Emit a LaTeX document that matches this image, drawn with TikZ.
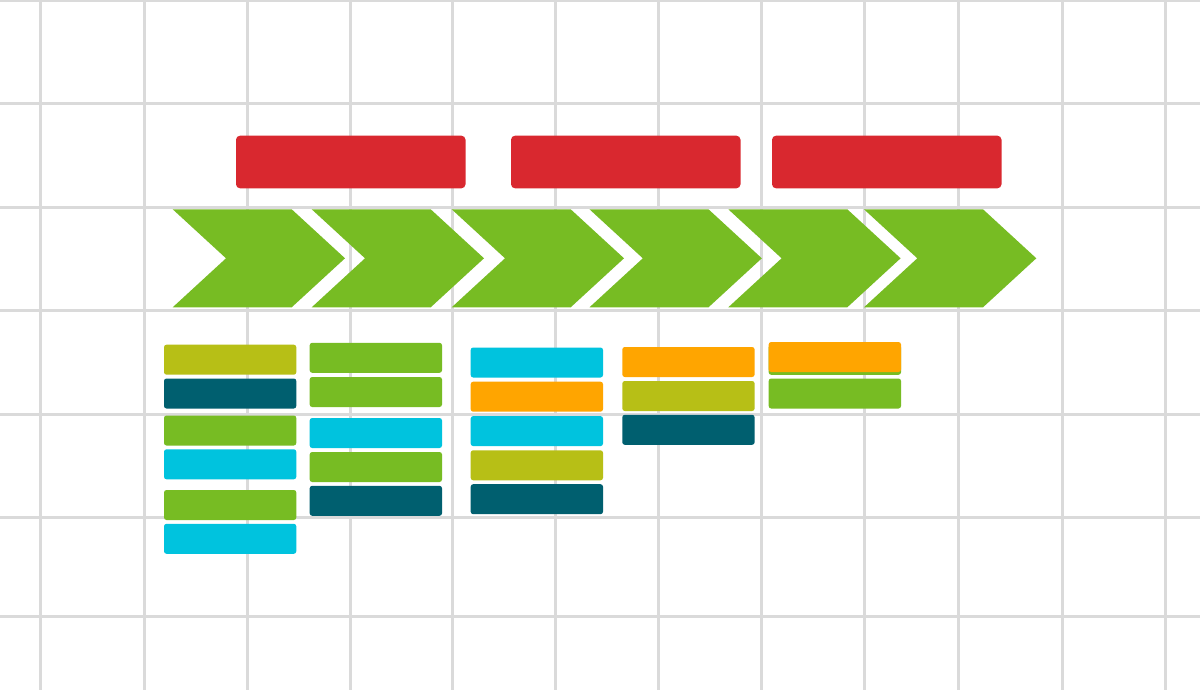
\documentclass[tikz,border=0pt]{standalone}
\usepackage{tikz}
\definecolor{gridc}{HTML}{DADADA}
\definecolor{redc}{HTML}{D9282F}
\definecolor{greenc}{HTML}{77BC23}
\definecolor{olivec}{HTML}{B7BF16}
\definecolor{tealc}{HTML}{005F6F}
\definecolor{cyanc}{HTML}{00C3DE}
\definecolor{orangec}{HTML}{FFA500}
\tikzset{
  gridline/.style={draw=gridc, line width=3pt},
  phase/.style={fill=redc, rounded corners=4pt, inner sep=0pt, outer sep=0pt,
    minimum width=229.5pt, minimum height=52.6pt, anchor=north west},
  chev/.style={fill=greenc},
  task/.style={rounded corners=2.5pt, inner sep=0pt, outer sep=0pt,
    minimum width=132.3pt, minimum height=30pt, anchor=north west},
}
\begin{document}
\begin{tikzpicture}[x=1pt,y=-1pt]
\useasboundingbox (0,0) rectangle (1200,690);
\fill[white] (0,0) rectangle (1200,690);
% grid
\foreach \gx in {40.5,144,247.5,350,452,555,658,761,864,958.5,1062,1165.3}
  \draw[gridline] (\gx,0) -- (\gx,690);
\foreach \gy in {1,104,207.3,310.7,414,517.3,616.5}
  \draw[gridline] (0,\gy) -- (1200,\gy);
% phases
\node[phase] (p1) at (236,135.7) {};
\node[phase] (p2) at (511,135.7) {};
\node[phase] (p3) at (772,135.7) {};
% chevrons
\foreach \s in {172.7,311.7,451.7,589.5,728.3,864}
  \fill[chev] (\s,209.3) -- (\s+119,209.3) -- (\s+172.3,258.3) -- (\s+119,307.3)
     -- (\s,307.3) -- (\s+53.3,258.3) -- cycle;
% column 1
\node[task, fill=olivec] (a1) at (164,344.7) {};
\node[task, fill=tealc]  (a2) at (164,378.5) {};
\node[task, fill=greenc] (a3) at (164,415.5) {};
\node[task, fill=cyanc]  (a4) at (164,449.3) {};
\node[task, fill=greenc] (a5) at (164,490) {};
\node[task, fill=cyanc]  (a6) at (164,523.8) {};
% column 2
\node[task, fill=greenc] (b1) at (309.7,342.8) {};
\node[task, fill=greenc] (b2) at (309.7,377) {};
\node[task, fill=cyanc]  (b3) at (309.7,418) {};
\node[task, fill=greenc] (b4) at (309.7,452) {};
\node[task, fill=tealc]  (b5) at (309.7,485.8) {};
% column 3
\node[task, fill=cyanc]   (c1) at (470.7,347.5) {};
\node[task, fill=orangec] (c2) at (470.7,381.7) {};
\node[task, fill=cyanc]   (c3) at (470.7,416.1) {};
\node[task, fill=olivec]  (c4) at (470.7,450.3) {};
\node[task, fill=tealc]   (c5) at (470.7,484.2) {};
% column 4
\node[task, fill=orangec] (d1) at (622.3,347) {};
\node[task, fill=olivec]  (d2) at (622.3,381) {};
\node[task, fill=tealc]   (d3) at (622.3,414.8) {};
% column 5
\node[task, fill=greenc]  (e0) at (768.7,344.8) {};
\node[task, fill=orangec] (e1) at (768.7,342) {};
\node[task, fill=greenc]  (e2) at (768.7,378.5) {};
\end{tikzpicture}
\end{document}
